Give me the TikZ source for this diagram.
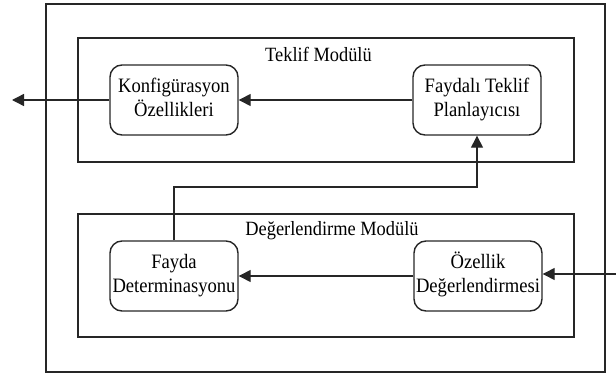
\documentclass[tikz,border=0pt]{standalone}
\usepackage{fontspec}
\setmainfont{Liberation Serif}
\usetikzlibrary{arrows.meta}
% slightly tall lettering, as set in the diagram
\newcommand\tallline[1]{\scalebox{1}[1.1]{#1}}
\newcommand\tallblock[1]{\scalebox{1}[1.1]{\begin{tabular}{@{}c@{}}#1\end{tabular}}}
\begin{document}
\begin{tikzpicture}[x=1pt,y=-1pt,
  line/.style={draw=black!85, line width=1.4pt},
  frame/.style={line},
  unit/.style={line, rounded corners=12pt, minimum width=128pt, minimum height=70pt,
    inner sep=0pt, font=\fontsize{18.6}{21.5}\selectfont},
  title/.style={anchor=base, inner sep=0pt, font=\fontsize{18.4}{22}\selectfont},
  flow/.style={line, -{Triangle[length=12pt,width=12pt]}}]
\useasboundingbox (0,0) rectangle (616,380);
% outer system boundary and the two modules
\draw[frame] (46,4) rectangle (605,372);
\draw[frame] (78,38) rectangle (574,162);
\draw[frame] (78,214) rectangle (574,337);
\node[title] (t1) at (318.5,61.5) {\tallline{Teklif Modülü}};
\node[title] (t2) at (332,235.5) {\tallline{Değerlendirme Modülü}};
% processing units
\node[unit] (konf) at (174,100) {\tallblock{Konfigürasyon\\Özellikleri}};
\node[unit] (fayt) at (477,100) {\tallblock{Faydalı Teklif\\Planlayıcısı}};
\node[unit] (fdet) at (174,276) {\tallblock{Fayda\\Determinasyonu}};
\node[unit] (ozel) at (478,276) {\tallblock{Özellik\\Değerlendirmesi}};
% connectors
\coordinate (out) at (12,100);
\coordinate (in) at (616,274);
\coordinate (bend) at (477,187);
\draw[flow] (konf) -- (out);
\draw[flow] (fayt) -- (konf);
\draw[flow] (ozel) -- (fdet);
\draw[flow] (in) -- (ozel.east |- in);
\draw[flow] (fdet.north) |- (bend) -- (fayt.south);
\end{tikzpicture}
\end{document}
